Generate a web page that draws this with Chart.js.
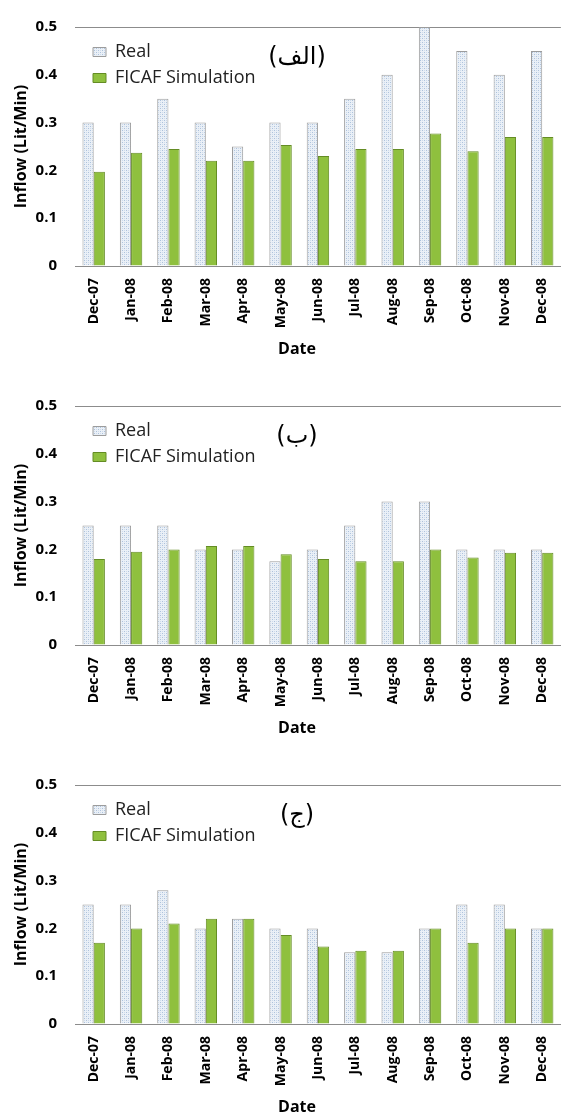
<!DOCTYPE html>
<html>
<head>
<meta charset="utf-8">
<script src="https://cdn.jsdelivr.net/npm/chart.js@4.4.1/dist/chart.umd.min.js"></script>
<style>
  html, body { margin: 0; padding: 0; background: #fff; }
  .panel { position: relative; width: 571px; height: 357px; margin-bottom: 22px; }
  .panel:last-child { margin-bottom: 0; }
</style>
</head>
<body>
<div class="panel"><canvas id="chartA"></canvas></div>
<div class="panel"><canvas id="chartB"></canvas></div>
<div class="panel"><canvas id="chartC"></canvas></div>
<script>
const months = ['Dec-07', 'Jan-08', 'Feb-08', 'Mar-08', 'Apr-08', 'May-08', 'Jun-08',
                'Jul-08', 'Aug-08', 'Sep-08', 'Oct-08', 'Nov-08', 'Dec-08'];

// panel (الف)
const realA = [0.30, 0.30, 0.35, 0.30, 0.25, 0.30, 0.30, 0.35, 0.40, 0.50, 0.45, 0.40, 0.45];
const simA  = [0.197, 0.237, 0.245, 0.22, 0.22, 0.253, 0.23, 0.245, 0.245, 0.277, 0.24, 0.27, 0.27];

// panel (ب)
const realB = [0.25, 0.25, 0.25, 0.20, 0.20, 0.175, 0.20, 0.25, 0.30, 0.30, 0.20, 0.20, 0.20];
const simB  = [0.18, 0.195, 0.20, 0.207, 0.207, 0.19, 0.18, 0.175, 0.175, 0.20, 0.183, 0.193, 0.193];

// panel (ج)
const realC = [0.25, 0.25, 0.28, 0.20, 0.22, 0.20, 0.20, 0.15, 0.15, 0.20, 0.25, 0.25, 0.20];
const simC  = [0.17, 0.20, 0.21, 0.22, 0.22, 0.186, 0.162, 0.153, 0.153, 0.20, 0.17, 0.20, 0.20];

const panelTags = ['(الف)', '(ب)', '(ج)'];
const seriesNames = ['Real', 'FICAF Simulation'];

Chart.defaults.font.family = "'Open Sans', sans-serif";
Chart.defaults.color = '#000';

// dotted light-blue fill for the "Real" bars
function dotPattern() {
  const c = document.createElement('canvas');
  c.width = 4; c.height = 4;
  const g = c.getContext('2d');
  g.fillStyle = '#eaf0f7';
  g.fillRect(0, 0, 4, 4);
  g.fillStyle = '#adc2dc';
  g.fillRect(0, 0, 1, 1);
  g.fillRect(2, 2, 1, 1);
  g.fillStyle = '#cfdbea';
  g.fillRect(2, 0, 1, 1);
  g.fillRect(0, 2, 1, 1);
  return g.createPattern(c, 'repeat');
}
const realFill = dotPattern();

// Arabic panel tag drawn inside the plot
const panelTag = {
  id: 'panelTag',
  afterDraw(chart, args, opts) {
    const ctx = chart.ctx;
    ctx.save();
    ctx.font = '24px "DejaVu Sans"';
    ctx.fillStyle = '#000';
    ctx.textAlign = 'center';
    ctx.textBaseline = 'middle';
    ctx.direction = 'rtl';
    const x = (chart.options.layout.padding.left + chart.width) / 2;
    ctx.fillText(opts.text, x, chart.chartArea.top + 31);
    ctx.restore();
  }
};

// nudge the in-plot legend to the spot used in the figure
const legendNudge = {
  id: 'legendNudge',
  afterLayout(chart) {
    const l = chart.legend, a = chart.chartArea;
    l.left = a.left + 10;
    l.top = a.top + 8;
    l.right = l.left + 250;
    l.bottom = l.top + 120;
  }
};

function makeChart(id, real, sim, tag) {
  return new Chart(document.getElementById(id), {
    type: 'bar',
    data: {
      labels: months,
      datasets: [
        {
          label: seriesNames[0],
          data: real,
          backgroundColor: realFill,
          borderColor: '#9c9c9c',
          borderWidth: 1,
          categoryPercentage: 0.6,
          barPercentage: 1.0
        },
        {
          label: seriesNames[1],
          data: sim,
          backgroundColor: '#8fc03e',
          borderColor: '#648c24',
          borderWidth: 1,
          categoryPercentage: 0.6,
          barPercentage: 1.0
        }
      ]
    },
    options: {
      responsive: true,
      maintainAspectRatio: false,
      animation: false,
      layout: { padding: { top: 19, left: 23, right: 0, bottom: 0 } },
      plugins: {
        legend: {
          position: 'chartArea',
          align: 'start',
          labels: {
            font: { size: 18 },
            color: '#222',
            boxWidth: 13,
            boxHeight: 9,
            padding: 8
          }
        },
        title: {
          display: true,
          position: 'bottom',
          text: 'Date',
          font: { size: 16, weight: 'bold', lineHeight: 1 },
          padding: { top: 0, bottom: 0 }
        },
        tooltip: { enabled: false },
        panelTag: { text: tag }
      },
      scales: {
        x: {
          grid: { display: false, drawTicks: false },
          border: { display: true, color: '#8c8c8c' },
          ticks: {
            minRotation: 90,
            maxRotation: 90,
            padding: 12,
            font: { size: 14, weight: 'bold' }
          },
          afterFit(scale) { scale.height = 75; }
        },
        y: {
          min: 0,
          max: 0.5,
          grid: {
            drawTicks: false,
            color: ctx => (ctx.tick && ctx.tick.value === 0.5 ? '#8c8c8c' : 'rgba(0,0,0,0)')
          },
          border: { display: false },
          ticks: {
            stepSize: 0.1,
            padding: 18,
            font: { size: 15, weight: 'bold' }
          },
          title: {
            display: true,
            text: 'Inflow (Lit/Min)',
            font: { size: 16, weight: 'bold' },
            padding: { top: -11, bottom: 0 }
          },
          afterFit(scale) { scale.width = 52; }
        }
      }
    },
    plugins: [panelTag, legendNudge]
  });
}

makeChart('chartA', realA, simA, panelTags[0]);
makeChart('chartB', realB, simB, panelTags[1]);
makeChart('chartC', realC, simC, panelTags[2]);
</script>
</body>
</html>
